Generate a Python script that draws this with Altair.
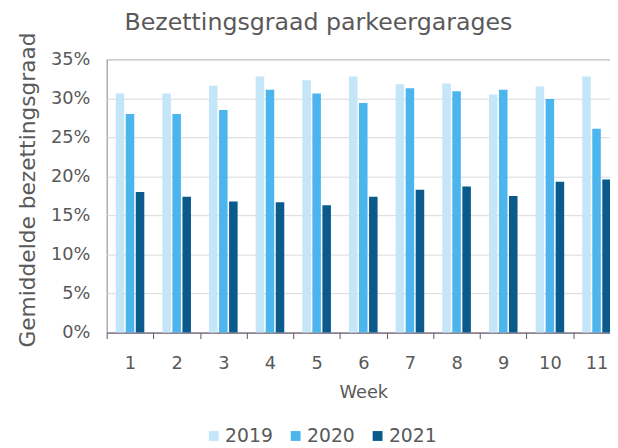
import altair as alt
import pandas as pd

weeks = [1, 2, 3, 4, 5, 6, 7, 8, 9, 10, 11]
years = ["2019", "2020", "2021"]
pct_2019 = [30.6, 30.6, 31.6, 32.8, 32.3, 32.8, 31.8, 31.9, 30.5, 31.5, 32.8]
pct_2020 = [28.0, 28.0, 28.5, 31.1, 30.6, 29.4, 31.3, 30.9, 31.1, 29.9, 26.1]
pct_2021 = [18.0, 17.4, 16.8, 16.7, 16.3, 17.4, 18.3, 18.7, 17.5, 19.3, 19.6]
colors = ["#c5e6f8", "#4db5ee", "#0a5a8c"]
y_ticks = [0, 0.05, 0.10, 0.15, 0.20, 0.25, 0.30, 0.35]

rows = []
for yr, series in zip(years, [pct_2019, pct_2020, pct_2021]):
    for w, v in zip(weeks, series):
        rows.append({"week": w, "year": yr, "value": v / 100})
df = pd.DataFrame(rows)

FONT = "DejaVu Sans"
GREY = "#595959"

chart = (
    alt.Chart(df)
    .mark_bar()
    .encode(
        x=alt.X(
            "week:O",
            scale=alt.Scale(paddingInner=0, paddingOuter=0, range=[0, 520]),
            axis=alt.Axis(
                title="Week",
                labelAngle=0,
                tickBand="extent",
                tickSize=6,
                labelPadding=16,
                titlePadding=12,
                domainColor="#5f5566",
                tickColor="#5f5566",
                labelFontSize=18,
                titleFontSize=18,
            ),
        ),
        xOffset=alt.XOffset(
            "year:N", scale=alt.Scale(domain=years, paddingInner=0.15, paddingOuter=0.9)
        ),
        y=alt.Y(
            "value:Q",
            scale=alt.Scale(domain=[0, 0.35], nice=False),
            axis=alt.Axis(
                title="Gemiddelde bezettingsgraad",
                format=".0%",
                values=y_ticks,
                domain=False,
                ticks=False,
                labelPadding=17,
                labelFontSize=18,
                titleFontSize=22,
                titleX=-80,
                titleY=132,
                titleBaseline="middle",
                gridColor="#d9d9d9",
            ),
        ),
        color=alt.Color(
            "year:N",
            scale=alt.Scale(domain=years, range=colors),
            legend=alt.Legend(
                title=None,
                orient="none",
                legendX=99,
                legendY=372,
                direction="horizontal",
                symbolType="square",
                symbolSize=100,
                symbolStrokeWidth=0,
                labelFontSize=19,
                labelOffset=2,
                columnPadding=13,
                padding=0,
            ),
        ),
    )
    .properties(
        width=510,
        height=277,
        title=alt.TitleParams(
            "Bezettingsgraad parkeergarages",
            anchor="start",
            frame="group",
            dx=18,
            offset=-3,
            fontSize=24,
            fontWeight="normal",
            color=GREY,
            font=FONT,
        ),
        autosize=alt.AutoSizeParams(type="none"),
        padding={"left": 100, "top": 49, "right": 0, "bottom": 114},
    )
    .configure(font=FONT, background="white")
    .configure_view(stroke="#8c7b96", strokeWidth=1)
    .configure_axis(labelColor=GREY, titleColor=GREY, labelFont=FONT, titleFont=FONT, titleFontWeight="normal")
    .configure_legend(labelColor=GREY, labelFont=FONT)
)

chart.save("out.html", embed_options={"renderer": "svg", "actions": False})
